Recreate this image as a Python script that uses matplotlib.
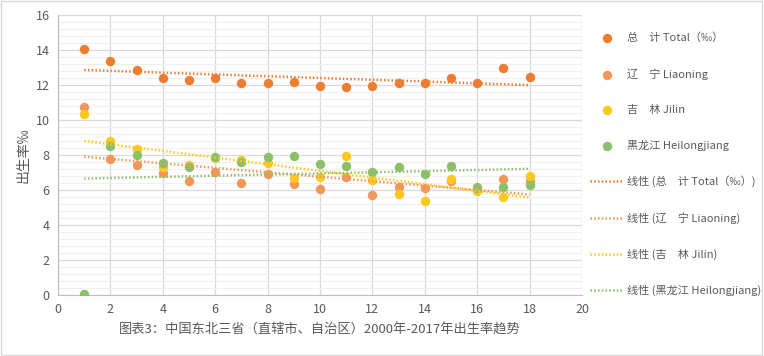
import numpy as np
import matplotlib.pyplot as plt
from matplotlib.ticker import MultipleLocator

plt.rcParams['font.family'] = ['Noto Sans CJK SC', 'DejaVu Sans']

# Data (x = year index 1..18)
years = list(range(1, 19))
total = [14.04, 13.39, 12.86, 12.42, 12.29, 12.42, 12.10, 12.10, 12.15,
         11.96, 11.90, 11.94, 12.11, 12.10, 12.38, 12.10, 12.97, 12.44]
liaoning = [10.72, 7.77, 7.41, 6.95, 6.53, 7.05, 6.42, 6.91, 6.34,
            6.08, 6.72, 5.73, 6.19, 6.13, 6.50, 6.19, 6.63, 6.53]
jilin = [10.32, 8.82, 8.34, 7.30, 7.45, 7.85, 7.71, 7.56, 6.67,
         6.72, 7.94, 6.57, 5.75, 5.37, 6.65, 5.92, 5.60, 6.80]
heilongjiang = [0.04, 8.53, 8.00, 7.52, 7.30, 7.90, 7.60, 7.90, 7.94,
                7.50, 7.37, 7.03, 7.33, 6.90, 7.39, 6.10, 6.15, 6.27]

names = ['总\u3000计 Total（‰）', '辽\u3000宁 Liaoning', '吉\u3000林 Jilin', '黑龙江 Heilongjiang']
trend_names = ['线性 (总\u3000计 Total（‰）)', '线性 (辽\u3000宁 Liaoning)',
               '线性 (吉\u3000林 Jilin)', '线性 (黑龙江 Heilongjiang)']
colors = ['#ED7D31', '#F1975A', '#FFC81E', '#8CC068']
series = [total, liaoning, jilin, heilongjiang]

fig = plt.figure(figsize=(7.64, 3.56), dpi=100)
ax = fig.add_axes([58 / 764, 61 / 356, 524 / 764, 280 / 356])

x = np.array(years)
dots = []
for s, c, n in zip(series, colors, names):
    dots.append(ax.scatter(x, s, s=46, color=c, label=n, zorder=3, linewidths=0))
lines = []
for s, c, n in zip(series, colors, trend_names):
    k, b = np.polyfit(x, s, 1)
    xs = np.array([x.min(), x.max()])
    ln, = ax.plot(xs, k * xs + b, color=c, lw=1.8, ls=(0, (0.6, 0.9)),
                  label=n, zorder=4, dash_capstyle='butt')
    lines.append(ln)

ax.set_xlim(0, 20)
ax.set_ylim(0, 16)
ax.xaxis.set_major_locator(MultipleLocator(2))
ax.yaxis.set_major_locator(MultipleLocator(2))
ax.yaxis.set_minor_locator(MultipleLocator(0.4))
ax.grid(which='major', color='#D9D9D9', lw=0.9)
ax.grid(which='minor', axis='y', color='#F0F0F0', lw=0.8)
ax.set_axisbelow(True)
for sp in ['top', 'right']:
    ax.spines[sp].set_visible(False)
for sp in ['left', 'bottom']:
    ax.spines[sp].set_color('#BFBFBF')
ax.tick_params(which='both', length=0, labelsize=9, colors='#595959', pad=6)
ax.set_ylabel('出生率‰', fontsize=10, color='#595959', labelpad=4)

ax.text(10, -2.0, '图表3：中国东北三省（直辖市、自治区）2000年-2017年出生率趋势',
        ha='center', va='center', fontsize=9.5, color='#595959')

leg = fig.legend(handles=dots + lines, loc='upper left', bbox_to_anchor=(586 / 764, 1 - 28 / 356),
                 frameon=False, fontsize=8, labelspacing=2.25, handlelength=2.9,
                 handletextpad=0.35, borderaxespad=0, scatterpoints=1)
for t in leg.get_texts():
    t.set_color('#595959')

fig.patches.append(plt.Rectangle((0.001, 0.002), 0.997, 0.995, transform=fig.transFigure,
                                 fill=False, edgecolor='#D9D9D9', lw=1))

fig.savefig('out.png', dpi=100)
